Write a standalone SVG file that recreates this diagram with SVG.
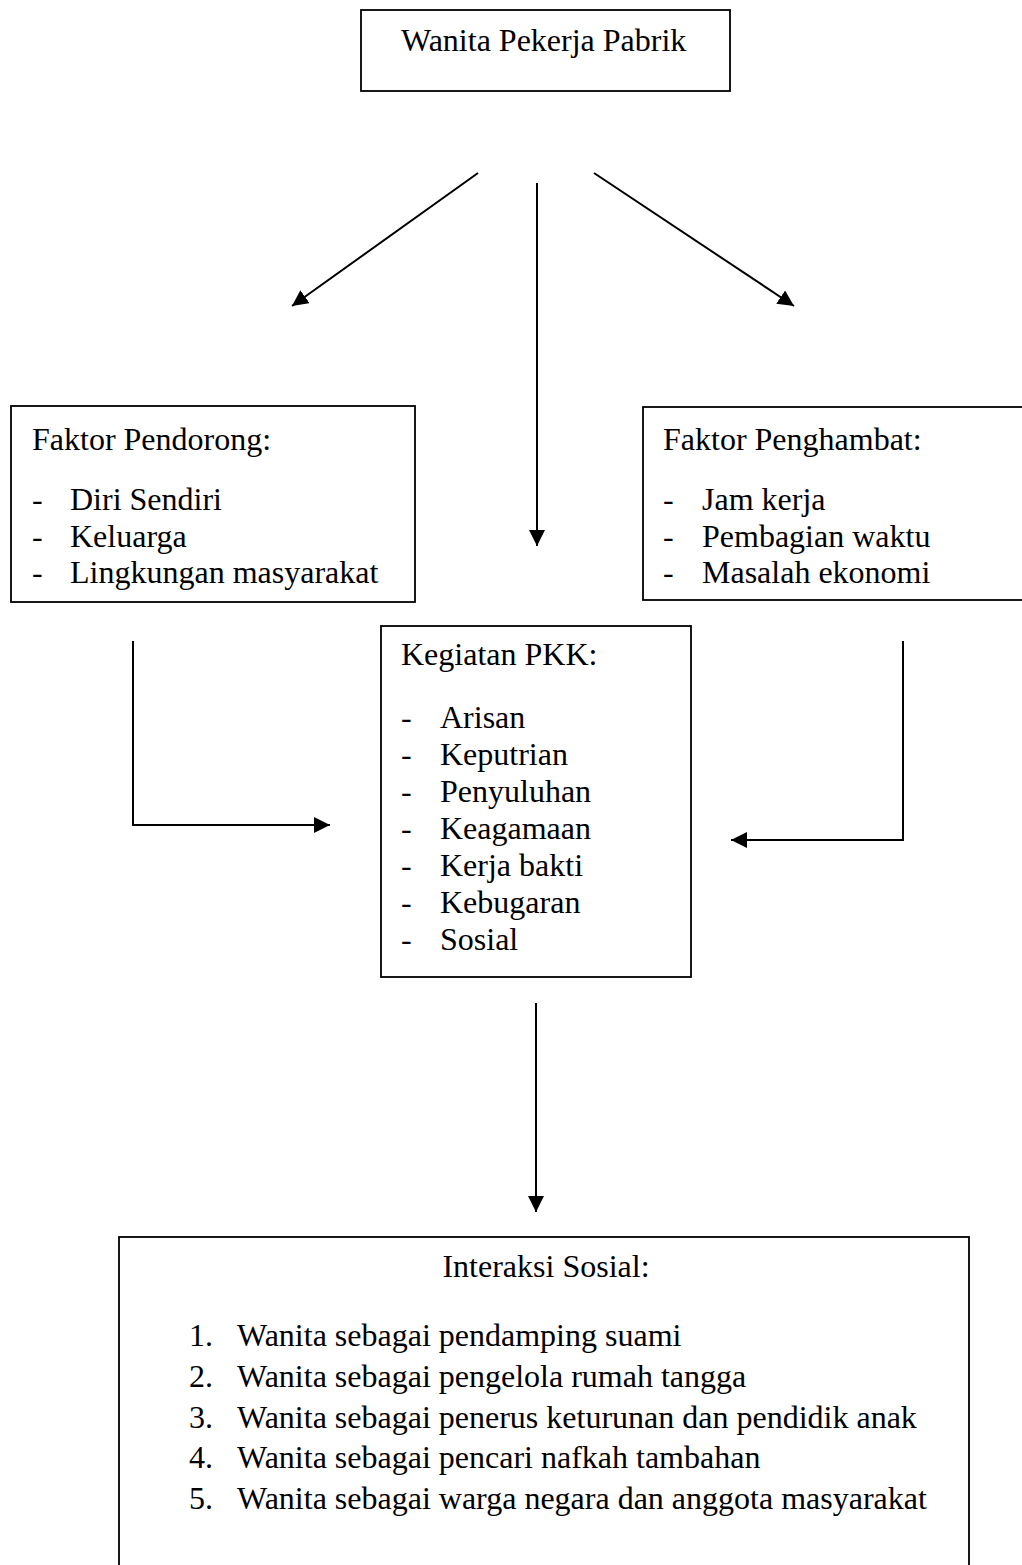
<svg xmlns="http://www.w3.org/2000/svg" width="1022" height="1565" viewBox="0 0 1022 1565">
<style>
.box{fill:#fff;stroke:#000;stroke-width:1.8}
.t{font-family:"Liberation Serif","Times New Roman",serif;font-size:32px;fill:#000}
.c{fill:none;stroke:#000;stroke-width:2}
</style>
<defs>
<marker id="ah" markerUnits="userSpaceOnUse" markerWidth="17" markerHeight="16" refX="16" refY="8" orient="auto">
<path d="M0,0 L16,8 L0,16 z" fill="#000"/>
</marker>
</defs>
<rect width="1022" height="1565" fill="#fff"/>
<g id="node-wanita">
<rect class="box" x="361" y="10" width="369" height="81"/>
<text class="t" x="401" y="51">Wanita Pekerja Pabrik</text>
</g>
<g id="node-pendorong">
<rect class="box" x="11" y="406" width="404" height="196"/>
<text class="t" x="32" y="450">Faktor Pendorong:</text>
<text class="t" x="32" y="510">-</text><text class="t" x="70" y="510">Diri Sendiri</text>
<text class="t" x="32" y="546.5">-</text><text class="t" x="70" y="546.5">Keluarga</text>
<text class="t" x="32" y="583">-</text><text class="t" x="70" y="583">Lingkungan masyarakat</text>
</g>
<g id="node-penghambat">
<rect class="box" x="643" y="407" width="390" height="193"/>
<text class="t" x="663" y="450">Faktor Penghambat:</text>
<text class="t" x="663" y="510">-</text><text class="t" x="702" y="510">Jam kerja</text>
<text class="t" x="663" y="546.5">-</text><text class="t" x="702" y="546.5">Pembagian waktu</text>
<text class="t" x="663" y="583">-</text><text class="t" x="702" y="583">Masalah ekonomi</text>
</g>
<g id="node-pkk">
<rect class="box" x="381" y="626" width="310" height="351"/>
<text class="t" x="401" y="665">Kegiatan PKK:</text>
<text class="t" x="401" y="728">-</text><text class="t" x="440" y="728">Arisan</text>
<text class="t" x="401" y="765">-</text><text class="t" x="440" y="765">Keputrian</text>
<text class="t" x="401" y="802">-</text><text class="t" x="440" y="802">Penyuluhan</text>
<text class="t" x="401" y="839">-</text><text class="t" x="440" y="839">Keagamaan</text>
<text class="t" x="401" y="876">-</text><text class="t" x="440" y="876">Kerja bakti</text>
<text class="t" x="401" y="913">-</text><text class="t" x="440" y="913">Kebugaran</text>
<text class="t" x="401" y="950">-</text><text class="t" x="440" y="950">Sosial</text>
</g>
<g id="node-interaksi">
<rect class="box" x="119" y="1237" width="850" height="340"/>
<text class="t" x="546" y="1277" text-anchor="middle">Interaksi Sosial:</text>
<text class="t" x="189" y="1346">1.</text><text class="t" x="237" y="1346">Wanita sebagai pendamping suami</text>
<text class="t" x="189" y="1387">2.</text><text class="t" x="237" y="1387">Wanita sebagai pengelola rumah tangga</text>
<text class="t" x="189" y="1428">3.</text><text class="t" x="237" y="1428">Wanita sebagai penerus keturunan dan pendidik anak</text>
<text class="t" x="189" y="1468">4.</text><text class="t" x="237" y="1468">Wanita sebagai pencari nafkah tambahan</text>
<text class="t" x="189" y="1509">5.</text><text class="t" x="237" y="1509">Wanita sebagai warga negara dan anggota masyarakat</text>
</g>
<g id="connectors">
<line class="c" x1="478" y1="173" x2="292" y2="306" marker-end="url(#ah)"/>
<line class="c" x1="537" y1="183" x2="537" y2="546" marker-end="url(#ah)"/>
<line class="c" x1="594" y1="173" x2="794" y2="306" marker-end="url(#ah)"/>
<polyline class="c" points="133,641 133,825 330,825" marker-end="url(#ah)"/>
<polyline class="c" points="903,641 903,840 731,840" marker-end="url(#ah)"/>
<line class="c" x1="536" y1="1003" x2="536" y2="1212" marker-end="url(#ah)"/>
</g>
</svg>
